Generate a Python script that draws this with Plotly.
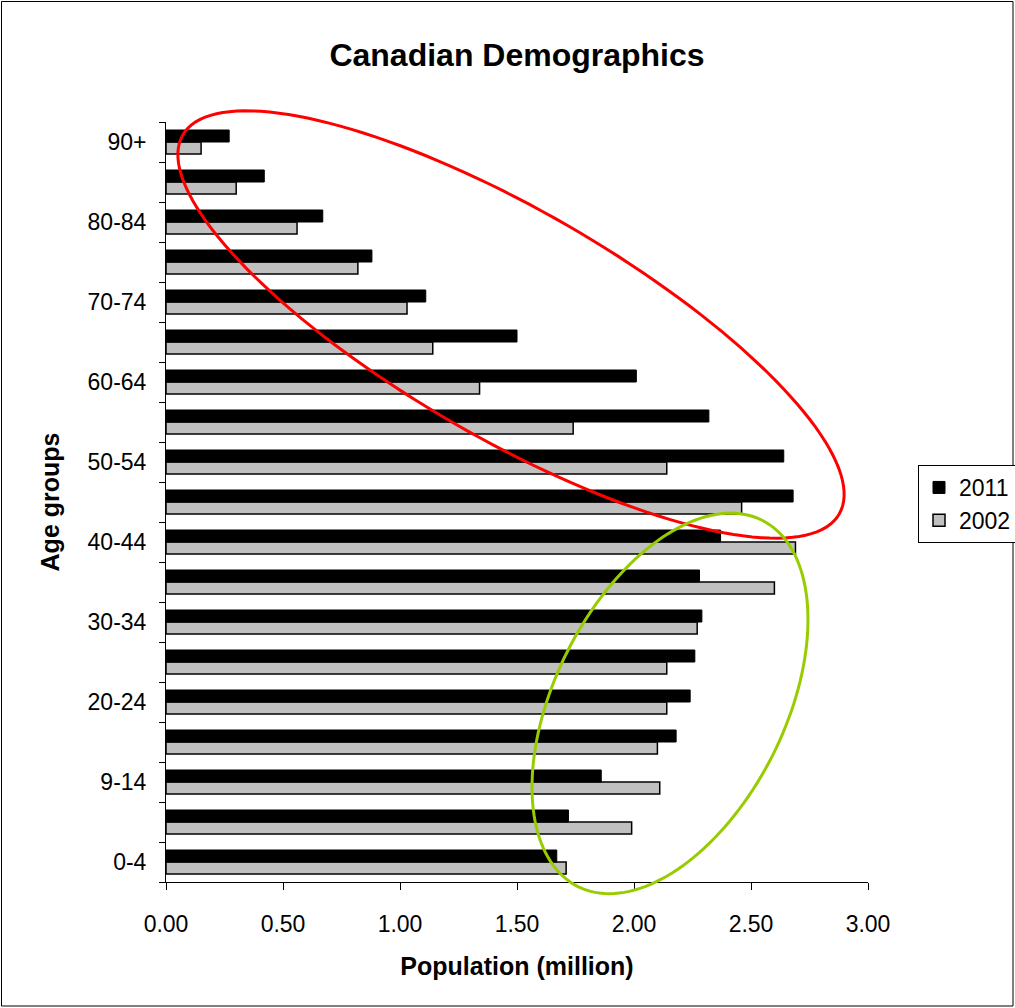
import math
import plotly.graph_objects as go

# Age groups, youngest to oldest
age_groups = ["0-4", "5-9", "9-14", "15-19", "20-24", "25-29", "30-34", "35-39",
              "40-44", "45-49", "50-54", "55-59", "60-64", "65-69", "70-74",
              "75-79", "80-84", "85-89", "90+"]

# Population in millions
pop_2011 = [1.67, 1.72, 1.86, 2.18, 2.24, 2.26, 2.29, 2.28, 2.37, 2.68,
            2.64, 2.32, 2.01, 1.50, 1.11, 0.88, 0.67, 0.42, 0.27]
pop_2002 = [1.71, 1.99, 2.11, 2.10, 2.14, 2.14, 2.27, 2.60, 2.69, 2.46,
            2.14, 1.74, 1.34, 1.14, 1.03, 0.82, 0.56, 0.30, 0.15]

x_ticks = [0.0, 0.5, 1.0, 1.5, 2.0, 2.5, 3.0]
x_tick_labels = ["0.00", "0.50", "1.00", "1.50", "2.00", "2.50", "3.00"]

positions = list(range(len(age_groups)))
label_positions = positions[::2]
label_text = age_groups[::2]
boundaries = [p - 0.5 for p in positions] + [positions[-1] + 0.5]

FONT = "Liberation Sans, Arial, sans-serif"

# Figure geometry (pixels)
W, H = 1015, 1008
L, R, T, B = 166, 147, 122, 126
PW, PH = W - L - R, H - T - B


def to_paper(px, py):
    return (px - L) / PW, (H - B - py) / PH


def ellipse_path(cx, cy, a, b, angle_deg, n=160):
    phi = math.radians(angle_deg)
    pts = []
    for k in range(n + 1):
        t = 2 * math.pi * k / n
        px = cx + a * math.cos(t) * math.cos(phi) - b * math.sin(t) * math.sin(phi)
        py = cy + a * math.cos(t) * math.sin(phi) + b * math.sin(t) * math.cos(phi)
        xp, yp = to_paper(px, py)
        pts.append(f"{xp:.5f},{yp:.5f}")
    return "M " + " L ".join(pts) + " Z"


fig = go.Figure()

fig.add_trace(go.Bar(
    y=positions, x=pop_2002, orientation="h", name="2002",
    marker=dict(color="#C0C0C0", line=dict(color="black", width=1.5)),
    legendrank=2,
))
fig.add_trace(go.Bar(
    y=positions, x=pop_2011, orientation="h", name="2011",
    marker=dict(color="black", line=dict(color="black", width=1)),
    legendrank=1,
))

shapes = [
    # highlight around the older cohorts
    dict(type="path", xref="paper", yref="paper",
         path=ellipse_path(511, 324.5, 379, 114, 30.0),
         line=dict(color="#FF0000", width=3), fillcolor="rgba(0,0,0,0)"),
    # highlight around the younger cohorts
    dict(type="path", xref="paper", yref="paper",
         path=ellipse_path(670, 703.4, 205, 115, -63.3),
         line=dict(color="#99CC00", width=3), fillcolor="rgba(0,0,0,0)"),
]
# outer chart border
bx0, by0 = to_paper(1.5, H - 2)
bx1, by1 = to_paper(W - 2, 1.5)
shapes.append(dict(type="rect", xref="paper", yref="paper",
                   x0=bx0, y0=by0, x1=bx1, y1=by1,
                   line=dict(color="black", width=1)))

fig.update_layout(
    width=W, height=H, autosize=False,
    margin=dict(l=L, r=R, t=T, b=B, pad=0, autoexpand=False),
    paper_bgcolor="white", plot_bgcolor="white",
    barmode="group", bargap=0.4, bargroupgap=0.0,
    font=dict(family=FONT, size=22, color="black"),
    title=dict(text="<b>Canadian Demographics</b>", x=517 / W, xanchor="center",
               xref="container", y=1 - 55 / H, yref="container", yanchor="middle",
               font=dict(family=FONT, size=32, color="black")),
    xaxis=dict(range=[0, 3.0], tickvals=x_ticks, ticktext=x_tick_labels,
               showline=True, linecolor="black", linewidth=1,
               ticks="outside", ticklen=7, tickcolor="black", tickwidth=1,
               showgrid=False, zeroline=False, ticklabelstandoff=14,
               tickfont=dict(size=23),
               title=dict(text="<b>Population (million)</b>", standoff=21,
                          font=dict(size=25))),
    yaxis=dict(range=[-0.5, len(age_groups) - 0.5], tickvals=label_positions,
               ticktext=label_text, showline=True, linecolor="black", linewidth=1,
               ticks="", showgrid=False, zeroline=False, ticklabelstandoff=14,
               tickfont=dict(size=23),
               minor=dict(tickvals=boundaries, ticks="outside", ticklen=6,
                          tickcolor="black", tickwidth=1, showgrid=False),
               title=dict(text="<b>Age groups</b>", standoff=20,
                          font=dict(size=25))),
    legend=dict(x=(918 - L) / PW, xanchor="left", y=(H - B - 504) / PH,
                yanchor="middle", bordercolor="black", borderwidth=1,
                bgcolor="white", font=dict(size=23), traceorder="normal",
                itemwidth=30),
    shapes=shapes,
)

fig.write_html("out.html")
